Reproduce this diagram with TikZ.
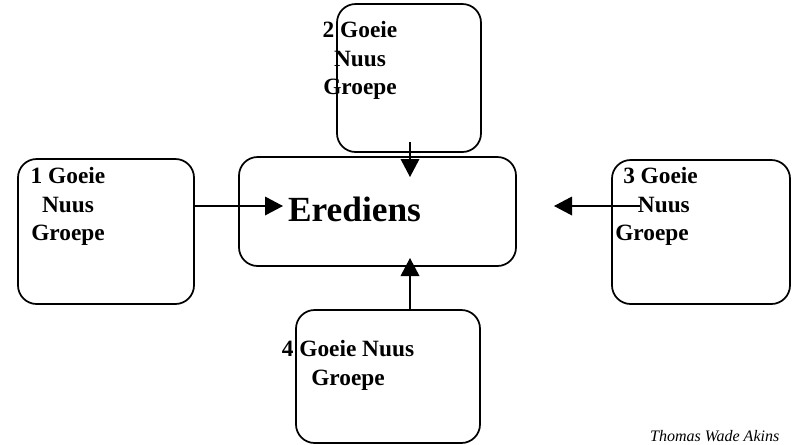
\documentclass[tikz,border=0pt]{standalone}
\usepackage{fontspec}
\setmainfont{Liberation Serif}
\usetikzlibrary{arrows.meta}

\begin{document}
\begin{tikzpicture}[x=75pt,y=-75pt]
		\tikzstyle{gbox}=[rectangle,draw,rounded corners=14pt,
                  line width=1.3pt, inner sep=0pt]
		\tikzstyle{glabel}=[font=\fontsize{17.5}{21.5}\selectfont\bfseries,
                  align=center, inner sep=0pt, anchor=north]
		\tikzstyle{arr}=[line width=1pt,-{Triangle[length=13.5pt,width=14pt]}]

		\useasboundingbox (0,0) rectangle (7.94,4.44);
		\clip (0,0) rectangle (7.94,4.44);

    	\foreach \name/\x/\y/\w/\h in {one/1.06/2.315/1.76/1.45, two/4.09/0.78/1.44/1.48,
    	        three/7.01/2.32/1.78/1.44, four/3.88/3.765/1.84/1.33}
       		\node[gbox,minimum width=\w*75pt,minimum height=\h*75pt] (\name) at (\x,\y) {};

    	\node[gbox,minimum width=2.77*75pt,minimum height=1.09*75pt] (ered) at (3.775,2.115) {};
    	\node[font=\fontsize{26.5}{30}\selectfont\bfseries,anchor=base] (eredtxt) at (3.545,2.21) {Erediens};

    	\node[glabel] (lone) at (0.68,1.67) {1 Goeie\\Nuus\\Groepe};
    	\node[glabel] (ltwo) at (3.60,0.21) {2 Goeie\\Nuus\\Groepe};
    	\node[glabel,anchor=north west,align=left] (lthree) at (6.15,1.67)
    	        {\hspace*{6pt}3 Goeie\\\hspace*{17pt}Nuus\\Groepe};
    	\node[glabel] (lfour) at (3.48,3.40) {4 Goeie Nuus\\Groepe};

        % edges
        \coordinate (t1) at (2.83,2.06);
        \coordinate (s2) at (4.10,1.42);
        \coordinate (t2) at (4.10,1.77);
        \coordinate (s3) at (6.40,2.06);
        \coordinate (t3) at (5.54,2.06);
        \coordinate (t4) at (4.10,2.58);

        \draw [arr] (one.east |- t1) -- (t1);
        \draw [arr] (s2) -- (t2);
        \draw [arr] (s3) -- (t3);
        \draw [arr] (four.north -| t4) -- (t4);

        \node[font=\fontsize{12}{14}\selectfont\itshape,anchor=base east] (auth) at (7.84,4.41) {Thomas Wade Akins};

	\end{tikzpicture}
\end{document}
